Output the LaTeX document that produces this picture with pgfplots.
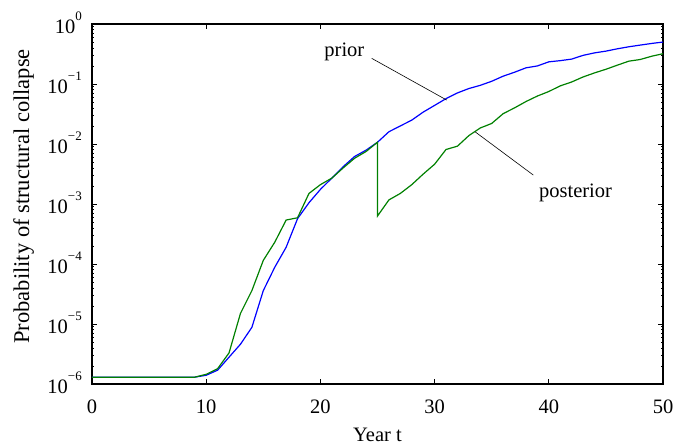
\documentclass[border=0pt]{standalone}
\usepackage{fontspec}
\setmainfont{Liberation Serif}
\usepackage{pgfplots}
\pgfplotsset{compat=1.18}
\definecolor{priorblue}{rgb}{0,0,1}
\definecolor{postgreen}{rgb}{0,0.5,0}
% MATLAB-like decade label: 10 with a raised exponent in the text font
\newcommand{\dec}[1]{10\raisebox{13pt}{\fontsize{13}{15}\selectfont #1}}

\begin{document}
\begin{tikzpicture}
\begin{axis}[
  scale only axis,
  width=571pt, height=360pt,
  ymode=log,
  xmin=0, xmax=50,
  ymin=1e-6, ymax=1,
  axis line style={line width=1.4pt},
  tick style={black, line width=0.7pt},
  tick align=inside,
  major tick length=5pt,
  minor tick length=2.5pt,
  xtick={0,10,20,30,40,50},
  xticklabels={0,10,20,30,40,50},
  ytick={1e-6,1e-5,1e-4,1e-3,1e-2,1e-1,1},
  yticklabels={\dec{−6},\dec{−5},\dec{−4},\dec{−3},\dec{−2},\dec{−1},\dec{0}},
  minor ytick={2e-6,3e-6,4e-6,5e-6,6e-6,7e-6,8e-6,9e-6,
               2e-5,3e-5,4e-5,5e-5,6e-5,7e-5,8e-5,9e-5,
               2e-4,3e-4,4e-4,5e-4,6e-4,7e-4,8e-4,9e-4,
               2e-3,3e-3,4e-3,5e-3,6e-3,7e-3,8e-3,9e-3,
               2e-2,3e-2,4e-2,5e-2,6e-2,7e-2,8e-2,9e-2,
               0.2,0.3,0.4,0.5,0.6,0.7,0.8,0.9},
  xticklabel style={font=\fontsize{20.5}{24}\selectfont, anchor=north, inner sep=0pt, yshift=-16pt},
  yticklabel style={font=\fontsize{20.5}{24}\selectfont, anchor=base east, inner sep=0pt, xshift=-10pt, yshift=-9.5pt},
  xlabel={Year t},
  xlabel style={font=\fontsize{20.5}{24}\selectfont, anchor=base, at={(axis description cs:0.5,0)}, yshift=-57pt},
  ylabel={Probability of structural collapse},
  ylabel style={font=\fontsize{22.5}{26}\selectfont, anchor=base, at={(axis description cs:-0.1103,0.521)}},
]
% prior
\addplot[priorblue, line width=1.2pt] coordinates {
(0,1.3e-6) (1,1.3e-6) (2,1.3e-6) (3,1.3e-6) (4,1.3e-6) (5,1.3e-6)
(6,1.3e-6) (7,1.3e-6) (8,1.3e-6) (9,1.3e-6) (10,1.4e-6) (11,1.7e-6)
(12,2.8e-6) (13,4.6e-6) (14,8.8e-6) (15,3.6e-5) (16,8.8e-5) (17,1.9e-4)
(18,5.7e-4) (19,1.05e-3) (20,1.75e-3) (21,2.7e-3) (22,4.2e-3) (23,6.2e-3)
(24,7.9e-3) (25,1.07e-2) (26,1.6e-2) (27,2.0e-2) (28,2.5e-2) (29,3.4e-2)
(30,4.4e-2) (31,5.7e-2) (32,7.1e-2) (33,8.4e-2) (34,9.5e-2) (35,0.111)
(36,0.135) (37,0.157) (38,0.186) (39,0.2) (40,0.234) (41,0.245)
(42,0.26) (43,0.30) (44,0.33) (45,0.353) (46,0.386) (47,0.417)
(48,0.445) (49,0.474) (50,0.50)
};
% posterior
\addplot[postgreen, line width=1.2pt] coordinates {
(0,1.3e-6) (1,1.3e-6) (2,1.3e-6) (3,1.3e-6) (4,1.3e-6) (5,1.3e-6)
(6,1.3e-6) (7,1.3e-6) (8,1.3e-6) (9,1.3e-6) (10,1.45e-6) (11,1.8e-6)
(12,3.3e-6) (13,1.5e-5) (14,3.6e-5) (15,1.15e-4) (16,2.3e-4) (17,5.4e-4)
(18,5.9e-4) (19,1.5e-3) (20,2.1e-3) (21,2.7e-3) (22,4.0e-3) (23,5.8e-3)
(24,7.5e-3) (25,1.07e-2) (25,6.3e-4) (26,1.17e-3) (27,1.5e-3) (28,2.1e-3)
(29,3.15e-3) (30,4.6e-3) (31,8.1e-3) (32,9.2e-3) (33,1.38e-2) (34,1.85e-2)
(35,2.2e-2) (36,3.2e-2) (37,4.0e-2) (38,5.1e-2) (39,6.3e-2) (40,7.5e-2)
(41,9.3e-2) (42,0.108) (43,0.131) (44,0.153) (45,0.176) (46,0.206)
(47,0.24) (48,0.256) (49,0.29) (50,0.32)
};
% annotations
\draw[black, line width=0.6pt] (axis cs:24.49,0.268) -- (axis cs:31.06,0.054);
\draw[black, line width=0.6pt] (axis cs:33.54,0.016) -- (axis cs:38.64,3.04e-3);
\node[anchor=base, inner sep=0pt, font=\fontsize{20.5}{24}\selectfont] at (axis cs:22.1,0.285) {prior};
\node[anchor=base, inner sep=0pt, font=\fontsize{20.5}{24}\selectfont] at (axis cs:42.34,1.29e-3) {posterior};
\end{axis}
\path (current axis.south west) ++(-92pt,-59pt);
\path (current axis.north east) ++(31pt,24pt);
\end{tikzpicture}
\end{document}
